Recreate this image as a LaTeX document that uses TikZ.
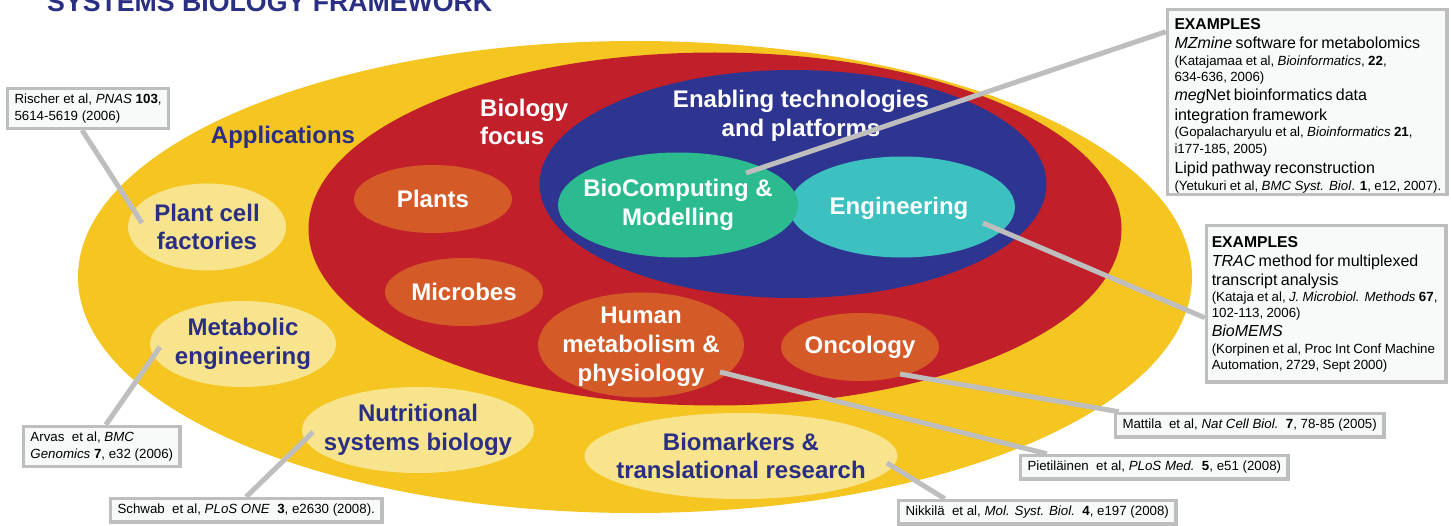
\documentclass[tikz,border=0pt]{standalone}
\usepackage{fontspec}
\setmainfont{Liberation Sans}
\usetikzlibrary{shapes.geometric}
\definecolor{ygold}{HTML}{F5C521}
\definecolor{bred}{HTML}{C1202A}
\definecolor{eblue}{HTML}{2E3590}
\definecolor{bgreen}{HTML}{2BBB8F}
\definecolor{ecyan}{HTML}{3CC0C0}
\definecolor{borange}{HTML}{D45B28}
\definecolor{lyellow}{HTML}{F7E48D}
\definecolor{navy}{HTML}{2B2F84}
\definecolor{cgray}{HTML}{BEBEBE}
\definecolor{boxfill}{HTML}{F8FAFA}
\newcommand\exrow[3]{{\fontsize{#1}{#2}\selectfont\noindent\mbox{#3}\par}}
\pgfdeclarelayer{bg}
\pgfdeclarelayer{mid}
\pgfsetlayers{bg,mid,main}
\begin{document}
\begin{tikzpicture}[x=1pt,y=-1pt,
  ell/.style={ellipse, draw=none, inner sep=0pt},
  lbl/.style={font=\fontsize{24}{28.8}\selectfont\bfseries, align=center, inner sep=0pt},
  navylbl/.style={lbl, text=navy},
  whitelbl/.style={lbl, text=white},
  conn/.style={draw=cgray, line width=5pt},
  refbox/.style={draw=cgray, line width=3.5pt, fill=boxfill, font=\fontsize{13.3}{16.5}\selectfont, align=left, inner xsep=7pt, inner ysep=5.5pt, anchor=north west},
  exbox/.style={draw=cgray, line width=3.5pt, fill=boxfill, inner ysep=0pt, anchor=north west, align=left}
]
\begin{pgfonlayer}{bg}
\useasboundingbox (0,0) rectangle (1451,520);
\fill[white] (0,0) rectangle (1451,520);

% big ellipses
\node[ell, fill=ygold, minimum width=1114pt, minimum height=472pt] (app) at (635,277) {};
\node[ell, fill=bred, minimum width=813pt, minimum height=353pt] (bio) at (715,229) {};
\node[ell, fill=eblue, minimum width=507pt, minimum height=228pt] (tech) at (793,184) {};
\node[ell, fill=ecyan, minimum width=226pt, minimum height=101pt] (eng) at (902,207) {};
\node[ell, fill=bgreen, minimum width=240pt, minimum height=105pt] (bcm) at (678,205) {};

% biology focus ellipses
\node[ell, fill=borange, minimum width=158pt, minimum height=68pt] (pla) at (433,199) {};
\node[ell, fill=borange, minimum width=158pt, minimum height=68pt] (mic) at (464,292) {};
\node[ell, fill=borange, minimum width=206pt, minimum height=105pt] (hum) at (641,345) {};
\node[ell, fill=borange, minimum width=158pt, minimum height=68pt] (onc) at (860,347) {};

% application ellipses
\node[ell, fill=lyellow, minimum width=158pt, minimum height=87pt] (pcf) at (207,227) {};
\node[ell, fill=lyellow, minimum width=186pt, minimum height=86pt] (met) at (243,344) {};
\node[ell, fill=lyellow, minimum width=232pt, minimum height=86pt] (nut) at (418,430) {};
\node[ell, fill=lyellow, minimum width=313pt, minimum height=86pt] (bmk) at (741,456) {};

% labels
\node[navylbl] (t-app) at (283,137) {Applications};
\node[whitelbl, align=left, anchor=west] (t-bio) at (480,122) {Biology\\focus};
\node[whitelbl] (t-tech) at (801,116) {Enabling technologies\\and platforms};
\node[whitelbl] (t-bcm) at (bcm) {BioComputing \&\\Modelling};
\node[whitelbl] (t-eng) at (899,208) {Engineering};
\node[whitelbl] (t-pla) at (pla) {Plants};
\node[whitelbl] (t-mic) at (mic) {Microbes};
\node[whitelbl] (t-hum) at (641,347) {Human\\metabolism \&\\physiology};
\node[whitelbl] (t-onc) at (onc) {Oncology};
\node[navylbl] (t-pcf) at (pcf) {Plant cell\\factories};
\node[navylbl] (t-met) at (met) {Metabolic\\engineering};
\node[navylbl] (t-nut) at (nut) {Nutritional\\systems biology};
\node[navylbl] (t-bmk) at (bmk) {Biomarkers \&\\translational research};

% title
\node[anchor=base west, inner sep=0pt, text=navy, font=\fontsize{26.7}{30}\selectfont\bfseries] (ttl) at (47,11.7) {SYSTEMS BIOLOGY FRAMEWORK};
\end{pgfonlayer}

% coordinates inside ellipses
\coordinate (pcf-in) at (142,223);
\coordinate (met-in) at (160,347);
\coordinate (nut-in) at (313,432);
\coordinate (bmk-in) at (887,463);
\coordinate (hum-in) at (720,372);
\coordinate (onc-in) at (900,374);
\coordinate (eng-in) at (983,223);
\coordinate (bcm-in) at (746,173);

% reference boxes
\node[refbox] (ris) at (5.75,86.75) {Rischer et al, \textit{PNAS} \textbf{103},\\5614-5619 (2006)};
\node[refbox] (arv) at (21.75,424.75) {Arvas\ \ et al, \textit{BMC}\\\textit{Genomics} \textbf{7}, e32 (2006)};
\node[refbox] (sch) at (108.75,496.75) {Schwab\ \ et al, \textit{PLoS ONE}\ \ \textbf{3}, e2630 (2008).};
\node[refbox] (nik) at (896.75,498.75) {Nikkilä\ \ et al, \textit{Mol. Syst. Biol.}\ \ \textbf{4}, e197 (2008)};
\node[refbox] (pie) at (1018.75,453.75) {Pietiläinen\ \ et al, \textit{PLoS Med.}\ \ \textbf{5}, e51 (2008)};
\node[refbox] (mat) at (1113.75,411.75) {Mattila\ \ et al, \textit{Nat Cell Biol.}\ \ \textbf{7}, 78-85 (2005)};

% examples boxes
\node[exbox, text width=265.5pt, inner xsep=7pt] (ex1) at (1165.75,7.75) {%
\exrow{15.7}{19}{\rule{0pt}{20pt}\textbf{EXAMPLES}}%
\exrow{16}{19}{\textit{MZmine} software for metabolomics}%
\exrow{13.3}{17}{(Katajamaa et al, \textit{Bioinformatics}, \textbf{22},}%
\exrow{13.3}{16.4}{634-636, 2006)}%
\exrow{16}{18.3}{\textit{meg}Net bioinformatics data}%
\exrow{16}{20}{integration framework}%
\exrow{13.3}{16.7}{(Gopalacharyulu et al, \textit{Bioinformatics} \textbf{21},}%
\exrow{13.3}{16.4}{i177-185, 2005)}%
\exrow{16}{19.9}{Lipid pathway reconstruction}%
\exrow{13.3}{17}{(Yetukuri et al, \textit{BMC Syst. Biol}. \textbf{1}, e12, 2007).\rule[-4.25pt]{0pt}{0pt}}%
};
\node[exbox, text width=229pt, inner xsep=5.25pt] (ex2) at (1204.75,223.75) {%
\exrow{15.7}{19}{\rule{0pt}{22.25pt}\textbf{EXAMPLES}}%
\exrow{16}{18.5}{\textit{TRAC} method for multiplexed}%
\exrow{16}{19}{transcript analysis}%
\exrow{13.3}{16.5}{(Kataja et al, \textit{J. Microbiol. Methods} \textbf{67},}%
\exrow{13.3}{16}{102-113, 2006)}%
\exrow{16}{19}{\textit{BioMEMS}}%
\exrow{13.3}{16.5}{(Korpinen et al, Proc Int Conf Machine}%
\exrow{13.3}{16}{Automation, 2729, Sept 2000)\rule[-12.75pt]{0pt}{0pt}}%
};

% connectors
\begin{pgfonlayer}{mid}
\draw[conn] ([xshift=-6pt]ris.south) -- (pcf-in);
\draw[conn] ([xshift=4pt]arv.north) -- (met-in);
\draw[conn] (sch.north) -- (nut-in);
\draw[conn] ([xshift=48pt]nik.north west) -- (bmk-in);
\draw[conn] ([xshift=28pt]pie.north west) -- (hum-in);
\draw[conn] ([xshift=5pt]mat.north west) -- (onc-in);
\draw[conn] ([yshift=-14pt]ex2.west) -- (eng-in);
\draw[conn] ([yshift=-24pt]ex1.north west) -- (bcm-in);
\end{pgfonlayer}
\end{tikzpicture}
\end{document}
